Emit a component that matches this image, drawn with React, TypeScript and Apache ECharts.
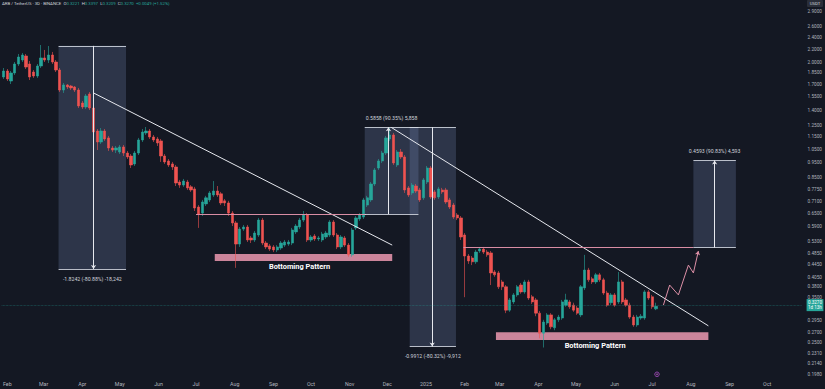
import React, { useEffect, useRef } from 'react';
import * as echarts from 'echarts';

// ---- candle data: 3D candles, first candle date + step ----
const candleStart = '2024-01-29';
const candleStepDays = 3;
// [open, close, low, high]
const ohlc: number[][] = [
  [1.791, 1.872, 1.764, 1.914], [1.872, 1.764, 1.738, 1.900], [1.738, 1.845, 1.700, 1.872], [1.845, 1.972, 1.818, 2.001],
  [1.972, 2.077, 1.943, 2.124], [2.031, 2.108, 2.001, 2.140], [2.093, 1.928, 1.900, 2.124], [1.972, 1.791, 1.751, 2.016],
  [1.858, 1.804, 1.778, 1.886], [1.804, 1.943, 1.778, 1.972], [1.943, 2.062, 1.914, 2.270], [2.062, 2.031, 2.001, 2.188],
  [2.031, 2.108, 1.986, 2.253], [2.108, 2.001, 1.972, 2.156], [2.001, 1.886, 1.858, 2.031], [1.886, 1.626, 1.602, 1.914],
  [1.626, 1.688, 1.591, 1.713], [1.688, 1.663, 1.638, 1.700], [1.675, 1.651, 1.626, 1.688], [1.663, 1.626, 1.602, 1.675],
  [1.626, 1.445, 1.423, 1.651], [1.477, 1.434, 1.413, 1.499], [1.434, 1.556, 1.413, 1.579], [1.579, 1.423, 1.402, 1.602],
  [1.423, 1.191, 1.165, 1.445], [1.200, 1.106, 1.042, 1.218], [1.106, 1.200, 1.090, 1.227], [1.200, 1.131, 1.115, 1.218],
  [1.140, 1.058, 1.035, 1.157], [1.058, 1.042, 1.027, 1.074], [1.042, 1.058, 1.019, 1.074], [1.027, 1.066, 1.012, 1.082],
  [1.066, 1.019, 0.997, 1.082], [1.019, 0.990, 0.975, 1.035], [0.997, 0.933, 0.912, 1.012], [0.940, 1.019, 0.926, 1.035],
  [1.019, 1.123, 1.004, 1.140], [1.123, 1.191, 1.106, 1.218], [1.183, 1.200, 1.165, 1.236], [1.200, 1.148, 1.131, 1.218],
  [1.148, 1.123, 1.106, 1.165], [1.131, 1.098, 1.074, 1.148], [1.115, 0.997, 0.954, 1.131], [0.997, 0.954, 0.940, 1.012],
  [0.961, 0.933, 0.919, 0.975], [0.940, 0.919, 0.899, 0.954], [0.919, 0.816, 0.798, 0.933], [0.822, 0.804, 0.787, 0.835],
  [0.804, 0.828, 0.793, 0.841], [0.822, 0.787, 0.775, 0.835], [0.793, 0.775, 0.764, 0.804], [0.781, 0.678, 0.663, 0.793],
  [0.683, 0.649, 0.585, 0.693], [0.653, 0.709, 0.639, 0.720], [0.699, 0.731, 0.688, 0.742], [0.720, 0.758, 0.709, 0.769],
  [0.747, 0.769, 0.736, 0.828], [0.769, 0.747, 0.736, 0.798], [0.753, 0.704, 0.693, 0.764], [0.715, 0.704, 0.688, 0.725],
  [0.704, 0.653, 0.639, 0.715], [0.653, 0.607, 0.593, 0.663], [0.607, 0.519, 0.435, 0.616], [0.519, 0.580, 0.508, 0.589],
  [0.580, 0.589, 0.572, 0.598], [0.589, 0.535, 0.527, 0.598], [0.543, 0.535, 0.523, 0.551], [0.535, 0.563, 0.527, 0.572],
  [0.555, 0.620, 0.547, 0.630], [0.620, 0.523, 0.515, 0.630], [0.523, 0.508, 0.500, 0.531], [0.512, 0.500, 0.493, 0.519],
  [0.508, 0.497, 0.489, 0.515], [0.497, 0.508, 0.489, 0.515], [0.504, 0.523, 0.497, 0.531], [0.515, 0.527, 0.508, 0.535],
  [0.519, 0.527, 0.512, 0.535], [0.523, 0.576, 0.515, 0.585], [0.568, 0.593, 0.559, 0.602], [0.589, 0.620, 0.580, 0.630],
  [0.620, 0.644, 0.611, 0.663], [0.644, 0.535, 0.527, 0.653], [0.535, 0.547, 0.527, 0.555], [0.551, 0.539, 0.531, 0.559],
  [0.539, 0.543, 0.531, 0.551], [0.535, 0.559, 0.527, 0.568], [0.547, 0.563, 0.539, 0.572], [0.555, 0.611, 0.547, 0.620],
  [0.611, 0.555, 0.547, 0.620], [0.555, 0.508, 0.500, 0.563], [0.508, 0.547, 0.500, 0.555], [0.543, 0.515, 0.508, 0.551],
  [0.515, 0.479, 0.472, 0.523], [0.479, 0.576, 0.472, 0.585], [0.585, 0.630, 0.576, 0.639], [0.625, 0.644, 0.616, 0.653],
  [0.634, 0.720, 0.625, 0.731], [0.693, 0.731, 0.683, 0.742], [0.720, 0.810, 0.709, 0.822], [0.810, 0.899, 0.798, 0.912],
  [0.912, 0.961, 0.899, 0.975], [0.961, 1.019, 0.947, 1.035], [1.019, 1.140, 1.004, 1.157], [1.131, 1.165, 1.115, 1.227],
  [1.165, 0.947, 0.933, 1.183], [0.933, 1.027, 0.919, 1.042], [1.027, 0.990, 0.975, 1.050], [0.990, 0.775, 0.758, 1.004],
  [0.787, 0.747, 0.736, 0.798], [0.758, 0.804, 0.747, 0.816], [0.798, 0.769, 0.758, 0.810], [0.775, 0.720, 0.709, 0.787],
  [0.731, 0.835, 0.720, 0.847], [0.822, 0.912, 0.810, 0.926], [0.912, 0.736, 0.725, 0.926], [0.764, 0.731, 0.720, 0.775],
  [0.736, 0.781, 0.725, 0.793], [0.775, 0.764, 0.753, 0.787], [0.775, 0.709, 0.699, 0.787], [0.720, 0.683, 0.673, 0.731],
  [0.693, 0.634, 0.625, 0.704], [0.644, 0.630, 0.620, 0.653], [0.630, 0.547, 0.535, 0.639], [0.555, 0.475, 0.350, 0.563],
  [0.475, 0.458, 0.448, 0.482], [0.468, 0.455, 0.444, 0.475], [0.455, 0.489, 0.448, 0.497], [0.493, 0.500, 0.486, 0.508],
  [0.500, 0.489, 0.482, 0.508], [0.489, 0.479, 0.472, 0.497], [0.486, 0.419, 0.383, 0.493], [0.422, 0.413, 0.407, 0.428],
  [0.419, 0.378, 0.372, 0.425], [0.392, 0.378, 0.369, 0.398], [0.378, 0.318, 0.311, 0.383], [0.318, 0.343, 0.314, 0.348],
  [0.338, 0.356, 0.333, 0.361], [0.356, 0.378, 0.351, 0.383], [0.383, 0.364, 0.359, 0.389], [0.364, 0.392, 0.359, 0.398],
  [0.392, 0.348, 0.343, 0.398], [0.351, 0.338, 0.333, 0.356], [0.343, 0.311, 0.304, 0.348], [0.311, 0.268, 0.258, 0.316],
  [0.268, 0.291, 0.241, 0.296], [0.289, 0.307, 0.285, 0.311], [0.307, 0.281, 0.276, 0.311], [0.279, 0.296, 0.274, 0.300],
  [0.296, 0.302, 0.291, 0.307], [0.300, 0.338, 0.296, 0.343], [0.330, 0.343, 0.326, 0.359], [0.338, 0.326, 0.321, 0.343],
  [0.330, 0.318, 0.314, 0.336], [0.323, 0.311, 0.307, 0.328], [0.307, 0.378, 0.302, 0.383], [0.375, 0.428, 0.369, 0.479],
  [0.428, 0.398, 0.392, 0.435], [0.401, 0.392, 0.386, 0.407], [0.392, 0.413, 0.386, 0.419], [0.413, 0.398, 0.392, 0.419],
  [0.398, 0.361, 0.356, 0.404], [0.361, 0.330, 0.326, 0.367], [0.336, 0.356, 0.330, 0.361], [0.356, 0.330, 0.326, 0.361],
  [0.338, 0.392, 0.333, 0.422], [0.392, 0.338, 0.333, 0.398], [0.343, 0.330, 0.326, 0.348], [0.330, 0.302, 0.298, 0.336],
  [0.302, 0.285, 0.281, 0.307], [0.285, 0.302, 0.281, 0.307], [0.300, 0.304, 0.296, 0.309], [0.300, 0.364, 0.296, 0.369],
  [0.364, 0.348, 0.343, 0.369], [0.351, 0.326, 0.321, 0.356], [0.321, 0.327, 0.318, 0.336],
];

// ---- axes ----
const xRange = ['2024-01-27T12:00:00Z', '2025-10-28T14:00:00Z'];
const yRange = [0.1937, 3.169];
const priceTicks = [2.9, 2.6, 2.4, 2.2, 2.0, 1.85, 1.7, 1.55, 1.4, 1.25, 1.15, 1.05, 0.95, 0.85, 0.775, 0.71, 0.65,
  0.59, 0.53, 0.485, 0.445, 0.405, 0.38, 0.35, 0.295, 0.27, 0.25, 0.231, 0.214, 0.198];
const monthTicks = ['2024-02-01', '2024-03-01', '2024-04-01', '2024-05-01', '2024-06-01', '2024-07-01', '2024-08-01',
  '2024-09-01', '2024-10-01', '2024-11-01', '2024-12-01', '2025-01-01', '2025-02-01', '2025-03-01', '2025-04-01',
  '2025-05-01', '2025-06-01', '2025-07-01', '2025-08-01', '2025-09-01', '2025-10-01'];
const monthNames = ['Jan', 'Feb', 'Mar', 'Apr', 'May', 'Jun', 'Jul', 'Aug', 'Sep', 'Oct', 'Nov', 'Dec'];

// ---- drawings ----
const trendLines = [
  { from: ['2024-04-10', 1.591], to: ['2024-12-05', 0.515] },
  { from: ['2024-12-04', 1.2341], to: ['2025-08-15', 0.283] },
];
const levels = [
  { price: 0.6483, from: '2024-07-01', to: '2024-11-14' },
  { price: 0.5057, from: '2025-01-31', to: '2025-08-03' },
];
const measures = [
  { from: '2024-03-13', to: '2024-05-06', arrowAt: '2024-04-10', start: 2.2554, end: 0.4312, label: '-1.8242 (-80.88%) -18,242' },
  { from: '2024-11-13', to: '2024-12-26', arrowAt: '2024-12-02', start: 0.6483, end: 1.2341, label: '0.5858 (90.35%) 5,858' },
  { from: '2024-12-19', to: '2025-01-25', arrowAt: '2025-01-06', start: 1.2341, end: 0.2429, label: '-0.9912 (-80.32%) -9,912' },
  { from: '2025-08-03', to: '2025-09-06', arrowAt: '2025-08-20', start: 0.5057, end: 0.965, label: '0.4593 (90.83%) 4,593' },
];
const zones = [
  { from: '2024-07-16', to: '2024-12-05', top: 0.482, bottom: 0.458, label: 'Bottoming Pattern' },
  { from: '2025-02-26', to: '2025-08-15', top: 0.27, bottom: 0.255, label: 'Bottoming Pattern' },
];
const projection: [string, number][] = [
  ['2025-07-10', 0.33], ['2025-07-15', 0.383], ['2025-07-22', 0.356], ['2025-07-30', 0.444], ['2025-08-03', 0.419], ['2025-08-07', 0.493],
];

const UP = '#26a69a';
const DOWN = '#ef5350';
const BG = '#141823';
const TXT = '#b2b5be';
const PINK = '#dc8fa6';
const LEVEL = '#d98da4';
const FONT = 'Roboto, "Noto Sans", sans-serif';

const ts = (s: string) => Date.parse(s.length === 10 ? s + 'T00:00:00Z' : s);

export default function App() {
  const ref = useRef<HTMLDivElement>(null);
  useEffect(() => {
    if (!ref.current) return;
    const chart = echarts.init(ref.current, undefined, { renderer: 'svg' });
    const t0 = ts(candleStart);
    const candleData = ohlc.map((v, i) => [t0 + i * candleStepDays * 86400000, v[0], v[1], v[2], v[3]]);
    const last = ohlc[ohlc.length - 1][1];

    const lines: any[] = [];
    trendLines.forEach((t) => {
      lines.push([
        { coord: [ts(t.from[0] as string), t.from[1]], lineStyle: { color: '#e6e8ee', width: 1, type: 'solid' } },
        { coord: [ts(t.to[0] as string), t.to[1]] },
      ]);
    });
    levels.forEach((l) => {
      lines.push([
        { coord: [ts(l.from), l.price], lineStyle: { color: LEVEL, width: 1, type: 'solid' } },
        { coord: [ts(l.to), l.price] },
      ]);
    });
    measures.forEach((m) => {
      [m.start, m.end].forEach((p) => {
        lines.push([
          { coord: [ts(m.from), p], lineStyle: { color: 'rgba(214,218,228,0.85)', width: 1, type: 'solid' } },
          { coord: [ts(m.to), p] },
        ]);
      });
      lines.push([
        { coord: [ts(m.arrowAt), m.start], symbol: 'none', lineStyle: { color: '#e6e8ee', width: 1, type: 'solid' } },
        { coord: [ts(m.arrowAt), m.end], symbol: 'arrow', symbolSize: [4, 4] },
      ]);
    });
    for (let i = 0; i < projection.length - 1; i++) {
      const isLast = i === projection.length - 2;
      lines.push([
        { coord: [ts(projection[i][0]), projection[i][1]], symbol: 'none', lineStyle: { color: PINK, width: 1, type: 'solid' } },
        { coord: [ts(projection[i + 1][0]), projection[i + 1][1]], symbol: isLast ? 'arrow' : 'none', symbolSize: [4, 4] },
      ]);
    }
    lines.push({
      yAxis: last,
      symbol: 'none',
      lineStyle: { color: 'rgba(38,166,154,0.55)', width: 0.7, type: 'dotted' },
      label: {
        show: true,
        position: 'end',
        distance: 5,
        formatter: () => last.toFixed(4) + '\n1d 13h',
        backgroundColor: UP,
        color: '#ffffff',
        fontSize: 4.5,
        lineHeight: 5,
        padding: [1, 1.5],
        fontFamily: FONT,
      },
    });

    const areas: any[] = [];
    measures.forEach((m) => {
      const up = m.end > m.start;
      areas.push([
        {
          coord: [ts(m.from), Math.max(m.start, m.end)],
          itemStyle: { color: 'rgba(120,140,185,0.26)' },
          label: {
            show: true,
            position: up ? 'top' : 'bottom',
            distance: 7,
            formatter: () => m.label,
            color: '#d1d4dc',
            fontSize: 5.2,
            fontFamily: FONT,
          },
        },
        { coord: [ts(m.to), Math.min(m.start, m.end)] },
      ]);
    });
    zones.forEach((z, i) => {
      areas.push([
        {
          coord: [ts(z.from), z.top],
          itemStyle: { color: PINK, opacity: 0.92 },
          label: {
            show: true,
            position: 'bottom',
            distance: 2,
            offset: [i === 0 ? -4 : -7, 0],
            formatter: () => z.label,
            color: '#ffffff',
            fontSize: 7.4,
            fontWeight: 'bold',
            fontFamily: FONT,
          },
        },
        { coord: [ts(z.to), z.bottom] },
      ]);
    });

    chart.setOption({
      animation: false,
      backgroundColor: BG,
      grid: { left: 0, right: 22, top: 0, bottom: 12, containLabel: false },
      xAxis: {
        type: 'value',
        min: ts(xRange[0]),
        max: ts(xRange[1]),
        axisLine: { show: false },
        axisTick: { show: false },
        splitLine: { show: false },
        axisLabel: {
          customValues: monthTicks.map(ts),
          hideOverlap: false,
          margin: 4,
          fontSize: 5.3,
          color: TXT,
          fontFamily: FONT,
          formatter: (v: number) => {
            const d = new Date(v);
            return d.getUTCMonth() === 0 ? String(d.getUTCFullYear()) : monthNames[d.getUTCMonth()];
          },
        },
      },
      yAxis: {
        type: 'log',
        logBase: 10,
        position: 'right',
        min: yRange[0],
        max: yRange[1],
        axisLine: { show: false },
        axisTick: { show: false },
        splitLine: { show: false },
        axisLabel: {
          customValues: priceTicks,
          hideOverlap: false,
          margin: 6,
          fontSize: 4.7,
          color: TXT,
          fontFamily: FONT,
          formatter: (v: number) => Number(v).toFixed(4),
        },
      },
      series: [
        {
          type: 'candlestick',
          data: candleData,
          encode: { x: 0, y: [1, 2, 3, 4] },
          barWidth: 2.8,
          itemStyle: { color: UP, color0: DOWN, borderColor: UP, borderColor0: DOWN, borderWidth: 0.6 },
          markArea: { silent: true, data: areas },
          markLine: {
            silent: true,
            symbol: ['none', 'none'],
            label: { show: false },
            emphasis: { disabled: true },
            data: lines,
          },
        },
      ],
      graphic: [
        {
          type: 'text',
          left: 2,
          top: 1.5,
          style: {
            text: '{t|ARB / TetherUS · 3D · BINANCE}  {k|O}{v|0.3221}  {k|H}{v|0.3397}  {k|L}{v|0.3209}  {k|C}{v|0.3270}  {v|+0.0049 (+1.52%)}',
            fontSize: 4.3,
            fontFamily: FONT,
            rich: {
              t: { fill: '#d1d4dc', fontSize: 4.3, fontFamily: FONT },
              k: { fill: '#d1d4dc', fontSize: 4.3, fontFamily: FONT },
              v: { fill: UP, fontSize: 4.3, fontFamily: FONT },
            },
          },
        },
        { type: 'rect', shape: { x: 807, y: 0, width: 16, height: 7, r: 1 }, style: { fill: '#2a2e39' } },
        {
          type: 'text',
          x: 815,
          y: 3.5,
          style: { text: 'USDT', fill: '#d1d4dc', fontSize: 4.3, fontFamily: FONT, align: 'center', verticalAlign: 'middle' },
        },
        { type: 'circle', shape: { cx: 657, cy: 374.3, r: 2.3 }, style: { fill: '#2a1c33', stroke: '#a04bc0', lineWidth: 0.8 } },
        { type: 'circle', shape: { cx: 657, cy: 374.3, r: 0.6 }, style: { fill: '#c77ddc' } },
      ],
    });
    return () => chart.dispose();
  }, []);
  return <div ref={ref} style={{ position: 'absolute', left: 0, top: 0, width: 825, height: 389 }} />;
}
